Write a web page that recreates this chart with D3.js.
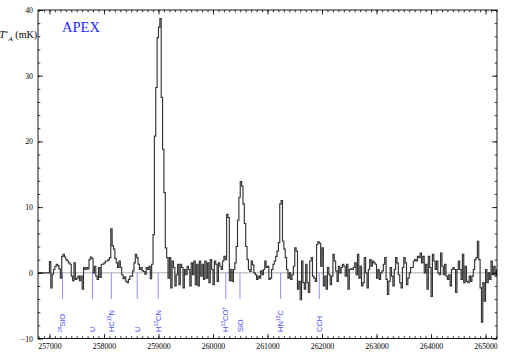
<!DOCTYPE html>
<html>
<head>
<meta charset="utf-8">
<script src="https://cdn.jsdelivr.net/npm/d3@7"></script>
<style>
  html, body { margin: 0; padding: 0; background: #fff; }
  svg { display: block; }
  .tick text { font-family: "Liberation Serif", "Times New Roman", serif; font-size: 7.8px; fill: #000; }
</style>
</head>
<body>
<div id="chart"></div>
<script>
// spectrum: 25 MHz channels starting at 257000 MHz
const freqStart = 257000;
const chanWidth = 25;
const tA = [
  1.7, -2.3, -0.2, 0.5, 1.0, 1.3, 1.1, 0.6, -0.8, 2.5,
  2.8, 2.4, 2.0, 1.8, 1.5, 1.3, -0.5, -1.2, 1.5, -1.0,
  -0.8, -0.5, -1.2, -0.5, -2.5, 0.8, 0.5, 0.8, 0.6, 2.0,
  2.4, 2.2, 0.0, 1.0, -0.5, -1.0, 0.8, -0.7, 1.3, 1.3,
  1.5, 1.8, 1.8, 2.0, 2.3, 6.7, 4.1, 3.6, 2.2, 1.5,
  0.8, 1.8, 0.8, -0.3, -0.9, -0.6, -1.3, -1.5, -1.0, -0.5,
  -0.5, 0.3, 1.5, 2.8, 2.3, 1.3, 0.5, 0.8, 0.3, 0.2,
  -0.2, 0.8, 0.5, 1.0, -0.9, 1.3, 5.8, 20.8, 28.2, 35.8,
  37.4, 38.7, 26.7, 18.8, 12.2, 3.8, 2.3, -0.8, 2.3, -2.3,
  1.8, 0.8, -2.0, -0.3, 1.3, -1.8, 1.3, 0.8, -2.3, 0.5,
  -0.3, 1.0, 0.5, -2.0, 1.5, -0.3, 1.8, -1.8, 1.3, -2.0,
  1.8, -0.5, 1.3, -1.0, 1.8, -0.8, 1.5, -1.5, 2.0, 0.5,
  -1.8, 1.8, 1.3, -1.3, 1.5, 1.0, 0.5, 1.8, 2.5, 2.0,
  8.9, 8.4, -1.2, 0.5, -1.3, 0.5, 1.5, 4.0, 8.0, 11.5,
  13.9, 13.2, 10.5, 7.5, 4.0, 2.0, 0.5, 0.2, 1.8, 1.2,
  0.0, -0.3, -1.0, -0.5, -0.8, 0.3, -0.3, 0.5, 1.8, 0.8,
  1.0, -1.0, -0.8, 0.5, 1.3, 1.8, 2.5, 3.3, 4.6, 10.5,
  11.0, 4.8, 3.6, 2.3, 0.5, -0.8, 0.0, -1.0, -0.3, 1.0,
  3.8, 3.3, -2.5, -1.3, -4.1, 1.8, -1.5, -2.5, 1.3, -1.5,
  -3.0, 1.8, 2.3, -0.5, -0.8, -1.3, 4.3, 4.7, 4.5, 1.0,
  3.8, -2.0, -0.5, -2.5, 0.8, -0.3, -1.8, -0.5, 2.8, 1.8,
  0.3, -1.3, 1.0, 0.0, 0.8, 1.3, 1.0, -0.5, 1.3, -2.5,
  0.5, 0.6, 0.5, 0.8, 1.5, -0.3, 2.8, -0.8, 1.0, -2.0,
  -1.5, 2.3, 0.0, -2.3, 0.5, 2.0, 1.0, 1.8, 1.5, 1.3,
  -0.8, 0.5, -1.0, 0.0, 0.3, 1.3, 2.3, -1.0, -3.3, -1.3,
  0.8, -0.5, -2.0, 0.5, 2.3, 1.5, -0.3, -1.5, -2.3, 0.8,
  2.3, 1.5, -1.8, -0.8, 0.0, 0.8, 0.8, 1.8, 2.0, 1.8,
  2.5, 2.3, 3.0, 1.5, 2.5, 0.0, 1.3, -2.5, 2.5, 0.8,
  -3.6, 2.8, 1.8, 0.5, 1.8, 0.0, -0.3, 3.0, 1.0, -0.3,
  1.3, -0.5, -1.0, -0.3, -2.0, 0.5, 0.8, 0.5, -3.0, 0.5,
  1.8, 0.5, -1.0, 2.8, -1.5, 1.0, -1.3, -1.5, -0.5, -1.3,
  -0.5, 0.5, 2.0, 2.3, 4.8, 2.0, -2.3, -7.5, -1.5, -4.3,
  0.5, -1.5, 0.0, -1.0, 1.8, -0.3, 1.0, -0.5, 0.5
];

// line identifications
const lineNames = [["", "29", "SiO"], ["U"], ["HC", "15", "N"], ["U"], ["H", "13", "CN"],
                   ["H", "13", "CO", "+"], ["SiO"], ["HN", "13", "C"], ["CCH"]];
const lineFreqs = [257240, 257790, 258135, 258610, 258995, 260235, 260495, 261240, 261950];

const xTicks = [257000, 258000, 259000, 260000, 261000, 262000, 263000, 264000, 265000];
const yTicks = [-10, 0, 10, 20, 30, 40];

const W = 509, H = 356;
const svg = d3.select("#chart").append("svg").attr("width", W).attr("height", H);

const x = d3.scaleLinear().domain([256790, 265210]).range([38, 497]);
const y = d3.scaleLinear().domain([-10, 40]).range([338.5, 10]);
const [x0, x1] = x.range();
const [y0, y1] = y.range();

svg.append("clipPath").attr("id", "plot-clip")
  .append("rect").attr("x", x0).attr("y", y1).attr("width", x1 - x0).attr("height", y0 - y1);

// zero line
svg.append("line")
  .attr("x1", x0).attr("x2", x1)
  .attr("y1", y(0)).attr("y2", y(0))
  .attr("stroke", "#999").attr("stroke-width", 0.8);

// line markers
const markers = svg.append("g");
markers.selectAll("line").data(lineFreqs).enter().append("line")
  .attr("x1", d => x(d)).attr("x2", d => x(d))
  .attr("y1", y(0)).attr("y2", y(-4))
  .attr("stroke", "#7373ff").attr("stroke-width", 0.8);

const labels = markers.selectAll("text").data(lineNames).enter().append("text")
  .attr("transform", (d, i) => `translate(${x(lineFreqs[i]) + 2.7},332) rotate(-90)`)
  .attr("font-family", "'Liberation Sans', Arial, sans-serif")
  .attr("font-size", 7.5)
  .attr("fill", "#4a4aff");
labels.each(function (parts) {
  const t = d3.select(this);
  parts.forEach(p => {
    if (!p) return;
    const sup = /^[0-9+]+$/.test(p);
    t.append("tspan").text(p)
      .attr("font-size", sup ? 5 : 7.5)
      .attr("baseline-shift", sup ? "super" : null);
  });
});

// spectrum as histogram steps
const pts = tA.map((v, i) => [freqStart + i * chanWidth, v]);
pts.push([freqStart + tA.length * chanWidth, tA[tA.length - 1]]);
pts.unshift([x.domain()[0], 0]);
const line = d3.line()
  .x(d => x(d[0]))
  .y(d => y(d[1]))
  .curve(d3.curveStepAfter);
svg.append("path")
  .datum(pts)
  .attr("clip-path", "url(#plot-clip)")
  .attr("fill", "none")
  .attr("stroke", "#333")
  .attr("stroke-width", 1.15)
  .attr("d", line);

// axes
const xMinor = d3.range(256800, 265201, 100);
const yMinor = d3.range(-10, 41, 2);

function clean(g) { g.select(".domain").remove(); g.selectAll("line").attr("stroke", "#000").attr("stroke-width", 0.8); }

svg.append("g").attr("transform", `translate(0,${y0})`)
  .call(d3.axisBottom(x).tickValues(xMinor).tickSize(-2.3).tickFormat(""))
  .call(clean);
svg.append("g").attr("transform", `translate(0,${y0})`)
  .call(d3.axisBottom(x).tickValues(xTicks).tickSize(-4.5).tickSizeOuter(0).tickPadding(5).tickFormat(d3.format("d")))
  .call(clean);
svg.append("g").attr("transform", `translate(0,${y1})`)
  .call(d3.axisTop(x).tickValues(xMinor).tickSize(-2.3).tickFormat(""))
  .call(clean);
svg.append("g").attr("transform", `translate(0,${y1})`)
  .call(d3.axisTop(x).tickValues(xTicks).tickSize(-4.5).tickFormat(""))
  .call(clean);

svg.append("g").attr("transform", `translate(${x0},0)`)
  .call(d3.axisLeft(y).tickValues(yMinor).tickSize(-2.3).tickFormat(""))
  .call(clean);
svg.append("g").attr("transform", `translate(${x0},0)`)
  .call(d3.axisLeft(y).tickValues(yTicks).tickSize(-5).tickPadding(5).tickFormat(d3.format("d")))
  .call(clean);
svg.append("g").attr("transform", `translate(${x1},0)`)
  .call(d3.axisRight(y).tickValues(yMinor).tickSize(-2.3).tickFormat(""))
  .call(clean);
svg.append("g").attr("transform", `translate(${x1},0)`)
  .call(d3.axisRight(y).tickValues(yTicks).tickSize(-5).tickFormat(""))
  .call(clean);

// frame
svg.append("rect")
  .attr("x", x0).attr("y", y1).attr("width", x1 - x0).attr("height", y0 - y1)
  .attr("fill", "none").attr("stroke", "#000").attr("stroke-width", 0.9);

// y title  T*_A (mK)
const yt = svg.append("text")
  .attr("x", 37).attr("y", 38)
  .attr("text-anchor", "end")
  .attr("font-family", "'Liberation Serif', 'Times New Roman', serif")
  .attr("font-size", 10);
yt.append("tspan").attr("font-style", "italic").text("T");
yt.append("tspan").attr("font-size", 7).attr("dy", -3.5).text("*");
yt.append("tspan").attr("font-size", 7).attr("font-style", "italic").attr("dy", 6).text("A");
yt.append("tspan").attr("dy", -2.5).text(" (mK)");

// telescope
svg.append("text")
  .attr("x", 62).attr("y", 32)
  .attr("font-family", "'Liberation Serif', 'Times New Roman', serif")
  .attr("font-size", 14.5)
  .attr("fill", "#1f1fff")
  .text("APEX");
</script>
</body>
</html>
